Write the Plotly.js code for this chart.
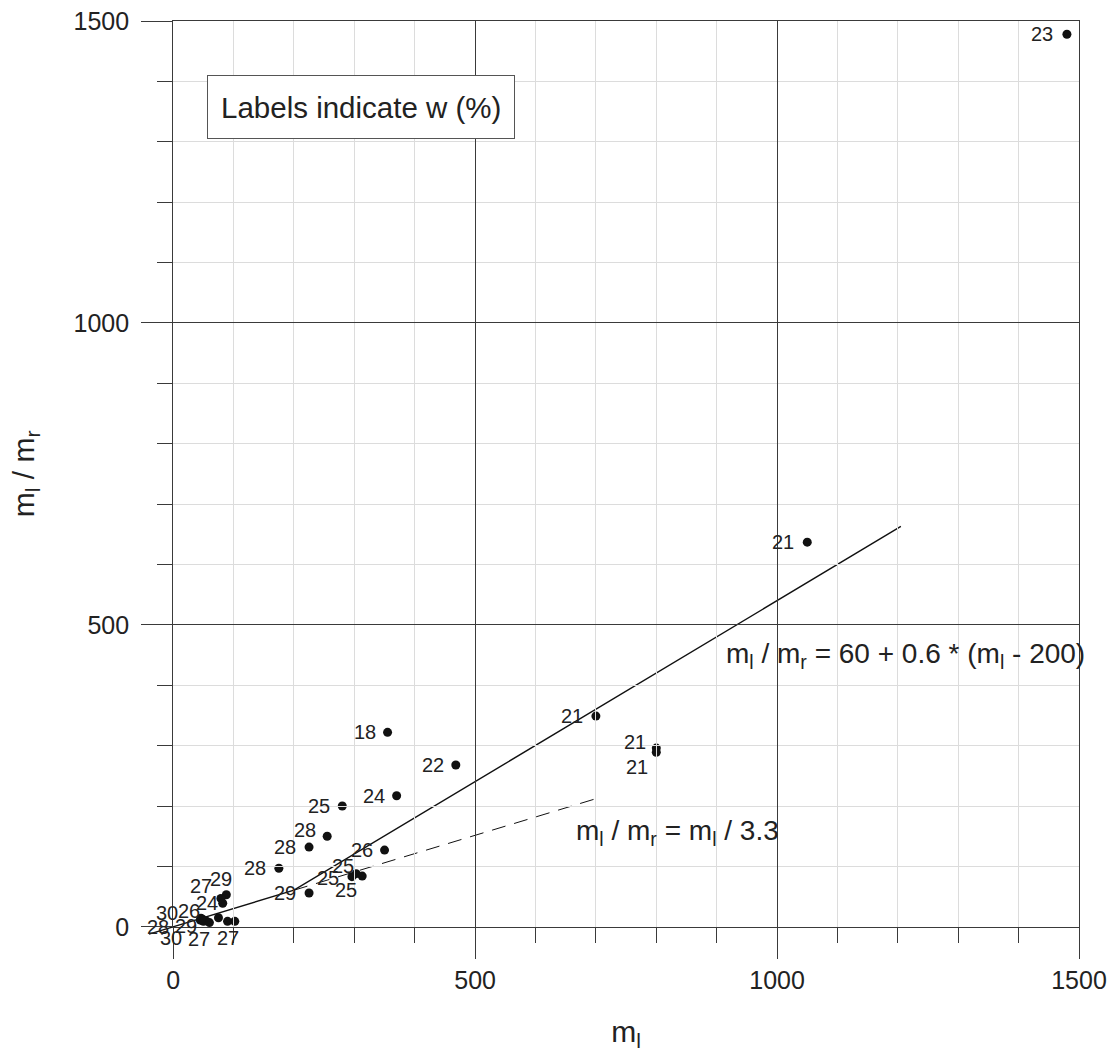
<!DOCTYPE html>
<html>
<head>
<meta charset="utf-8">
<script src="https://cdn.plot.ly/plotly-3.0.1.min.js"></script>
<style>html,body{margin:0;padding:0;background:#fff}</style>
</head>
<body>
<div id="chart" style="width:1110px;height:1052px"></div>
<script>
// Sample measurements: liquid mass m_l, ratio m_l / m_r, water content w (%)
const liquidMass = [1480, 1050, 700, 800, 800, 468, 355, 370, 280, 255, 225, 350, 175,
  296, 303, 313, 225, 88, 79, 82, 75, 48, 46, 45, 54, 50, 60, 90, 102];
const massRatio = [1478, 637, 349, 296, 289, 268, 322, 217, 200, 150, 132, 127, 97,
  83, 88, 84, 56, 53, 47, 39, 15, 13, 14, 11, 10, 9, 7, 9, 9];
const waterContent = [23, 21, 21, 21, 21, 22, 18, 24, 25, 28, 28, 26, 28,
  25, 25, 25, 29, 29, 27, 24, 24, 26, 30, 28, 29, 30, 27, 27, 27];

// Where each w label sits relative to its point (pixels: right, down)
const labelDx = [-25, -24, -24, -21, -19, -23, -23, -23, -23, -22, -24, -23, -24,
  -24, -13, -16, -24, -5, -20, -16, -12, -13, -34, -42, -20, -32, -10, 0, -8];
const labelDy = [0, 0, 0, -6, 15, 0, 0, 0, 0, -6, 0, 0, 0,
  1, -8, 14, 0, -16, -12, 0, -14, -8, -5, 7, 5, 17, 16, 17, 17];
// Points in the crowded corner whose label is already printed by a neighbour
const labelSharedWithNeighbour = [20, 28];

// Fitted relations
const ratioDivisor = 3.3;        // m_l / m_r = m_l / 3.3
const fitIntercept = 60;         // m_l / m_r = 60 + 0.6 * (m_l - 200)
const fitSlope = 0.6;
const fitBreak = 200;
const solidMl = [-40, fitBreak, 1205];
const dashedMl = [fitBreak, 700];

const lowBranch = m => m / ratioDivisor;
const highBranch = m => fitIntercept + fitSlope * (m - fitBreak);
const solidRatio = solidMl.map(m => (m <= fitBreak ? lowBranch(m) : highBranch(m)));
const dashedRatio = dashedMl.map(lowBranch);

const FONT = 'Liberation Sans, Arial, Helvetica, sans-serif';
const INK = '#222222';
const DARK = '#3a3a3a';

const traces = [
  {
    x: solidMl, y: solidRatio, xaxis: 'x', yaxis: 'y',
    mode: 'lines', line: {color: '#111', width: 1.4},
    hoverinfo: 'skip', showlegend: false
  },
  {
    x: dashedMl, y: dashedRatio, xaxis: 'x', yaxis: 'y',
    mode: 'lines', line: {color: '#111', width: 1, dash: '14px,9px'},
    hoverinfo: 'skip', showlegend: false
  },
  {
    x: liquidMass, y: massRatio, xaxis: 'x', yaxis: 'y',
    mode: 'markers', marker: {color: '#111', size: 9},
    cliponaxis: false, showlegend: false
  },
  {
    x: [], y: [], xaxis: 'x2', yaxis: 'y2', mode: 'markers', showlegend: false
  }
];

const annotations = [];
liquidMass.forEach((m, i) => {
  if (labelSharedWithNeighbour.includes(i)) return;
  annotations.push({
    x: m, y: massRatio[i], xref: 'x', yref: 'y',
    text: String(waterContent[i]), showarrow: false,
    xanchor: 'center', yanchor: 'middle',
    xshift: labelDx[i], yshift: -labelDy[i],
    font: {family: FONT, size: 20, color: INK}
  });
});

annotations.push({
  x: 912, y: 449, xref: 'x', yref: 'y', xanchor: 'left', yanchor: 'middle',
  text: 'm<sub>l</sub> / m<sub>r</sub> = 60 + 0.6 * (m<sub>l</sub> - 200)',
  showarrow: false, font: {family: FONT, size: 28, color: INK}
});
annotations.push({
  x: 663, y: 157, xref: 'x', yref: 'y', xanchor: 'left', yanchor: 'middle',
  text: 'm<sub>l</sub> / m<sub>r</sub> = m<sub>l</sub> / 3.3',
  showarrow: false, font: {family: FONT, size: 28, color: INK}
});
annotations.push({
  x: 311, y: 1358, xref: 'x', yref: 'y', xanchor: 'center', yanchor: 'middle',
  text: 'Labels indicate w (%)', showarrow: false, height: 36,
  bgcolor: '#ffffff', bordercolor: '#555555', borderwidth: 1, borderpad: 13,
  font: {family: FONT, size: 29.5, color: INK}
});

const zeroOffset = 50 / 1550;

const visibleAxis = (standoff) => ({
  domain: [zeroOffset, 1],
  range: [0, 1500],
  tickmode: 'linear', tick0: 0, dtick: 500,
  ticks: 'outside', ticklen: 31, tickwidth: 1, tickcolor: DARK,
  ticklabelstandoff: standoff,
  tickfont: {family: FONT, size: 25, color: INK},
  showgrid: true, gridcolor: DARK, gridwidth: 1,
  zeroline: false,
  showline: true, linecolor: DARK, linewidth: 1, mirror: true,
  minor: {
    tick0: 0, dtick: 100, ticks: 'outside', ticklen: 15, tickwidth: 1, tickcolor: DARK,
    showgrid: true, gridcolor: '#dcdcdc', gridwidth: 1
  },
  fixedrange: true
});

const layout = {
  width: 1110, height: 1052,
  margin: {l: 143, r: 31, t: 21, b: 95},
  paper_bgcolor: '#ffffff', plot_bgcolor: 'rgba(0,0,0,0)',
  showlegend: false,
  xaxis: {domain: [0, 1], range: [-50, 1500], visible: false, anchor: 'y', fixedrange: true},
  yaxis: {domain: [0, 1], range: [-50, 1500], visible: false, anchor: 'x', fixedrange: true},
  xaxis2: Object.assign(visibleAxis(0), {
    anchor: 'y2',
    title: {text: 'm<sub>l</sub>', font: {family: FONT, size: 30, color: INK}, standoff: 28}
  }),
  yaxis2: Object.assign(visibleAxis(7), {
    anchor: 'x2',
    title: {text: 'm<sub>l</sub> / m<sub>r</sub>', font: {family: FONT, size: 30, color: INK}, standoff: 30}
  }),
  annotations: annotations
};

Plotly.newPlot('chart', traces, layout, {displayModeBar: false, staticPlot: true});
</script>
</body>
</html>
